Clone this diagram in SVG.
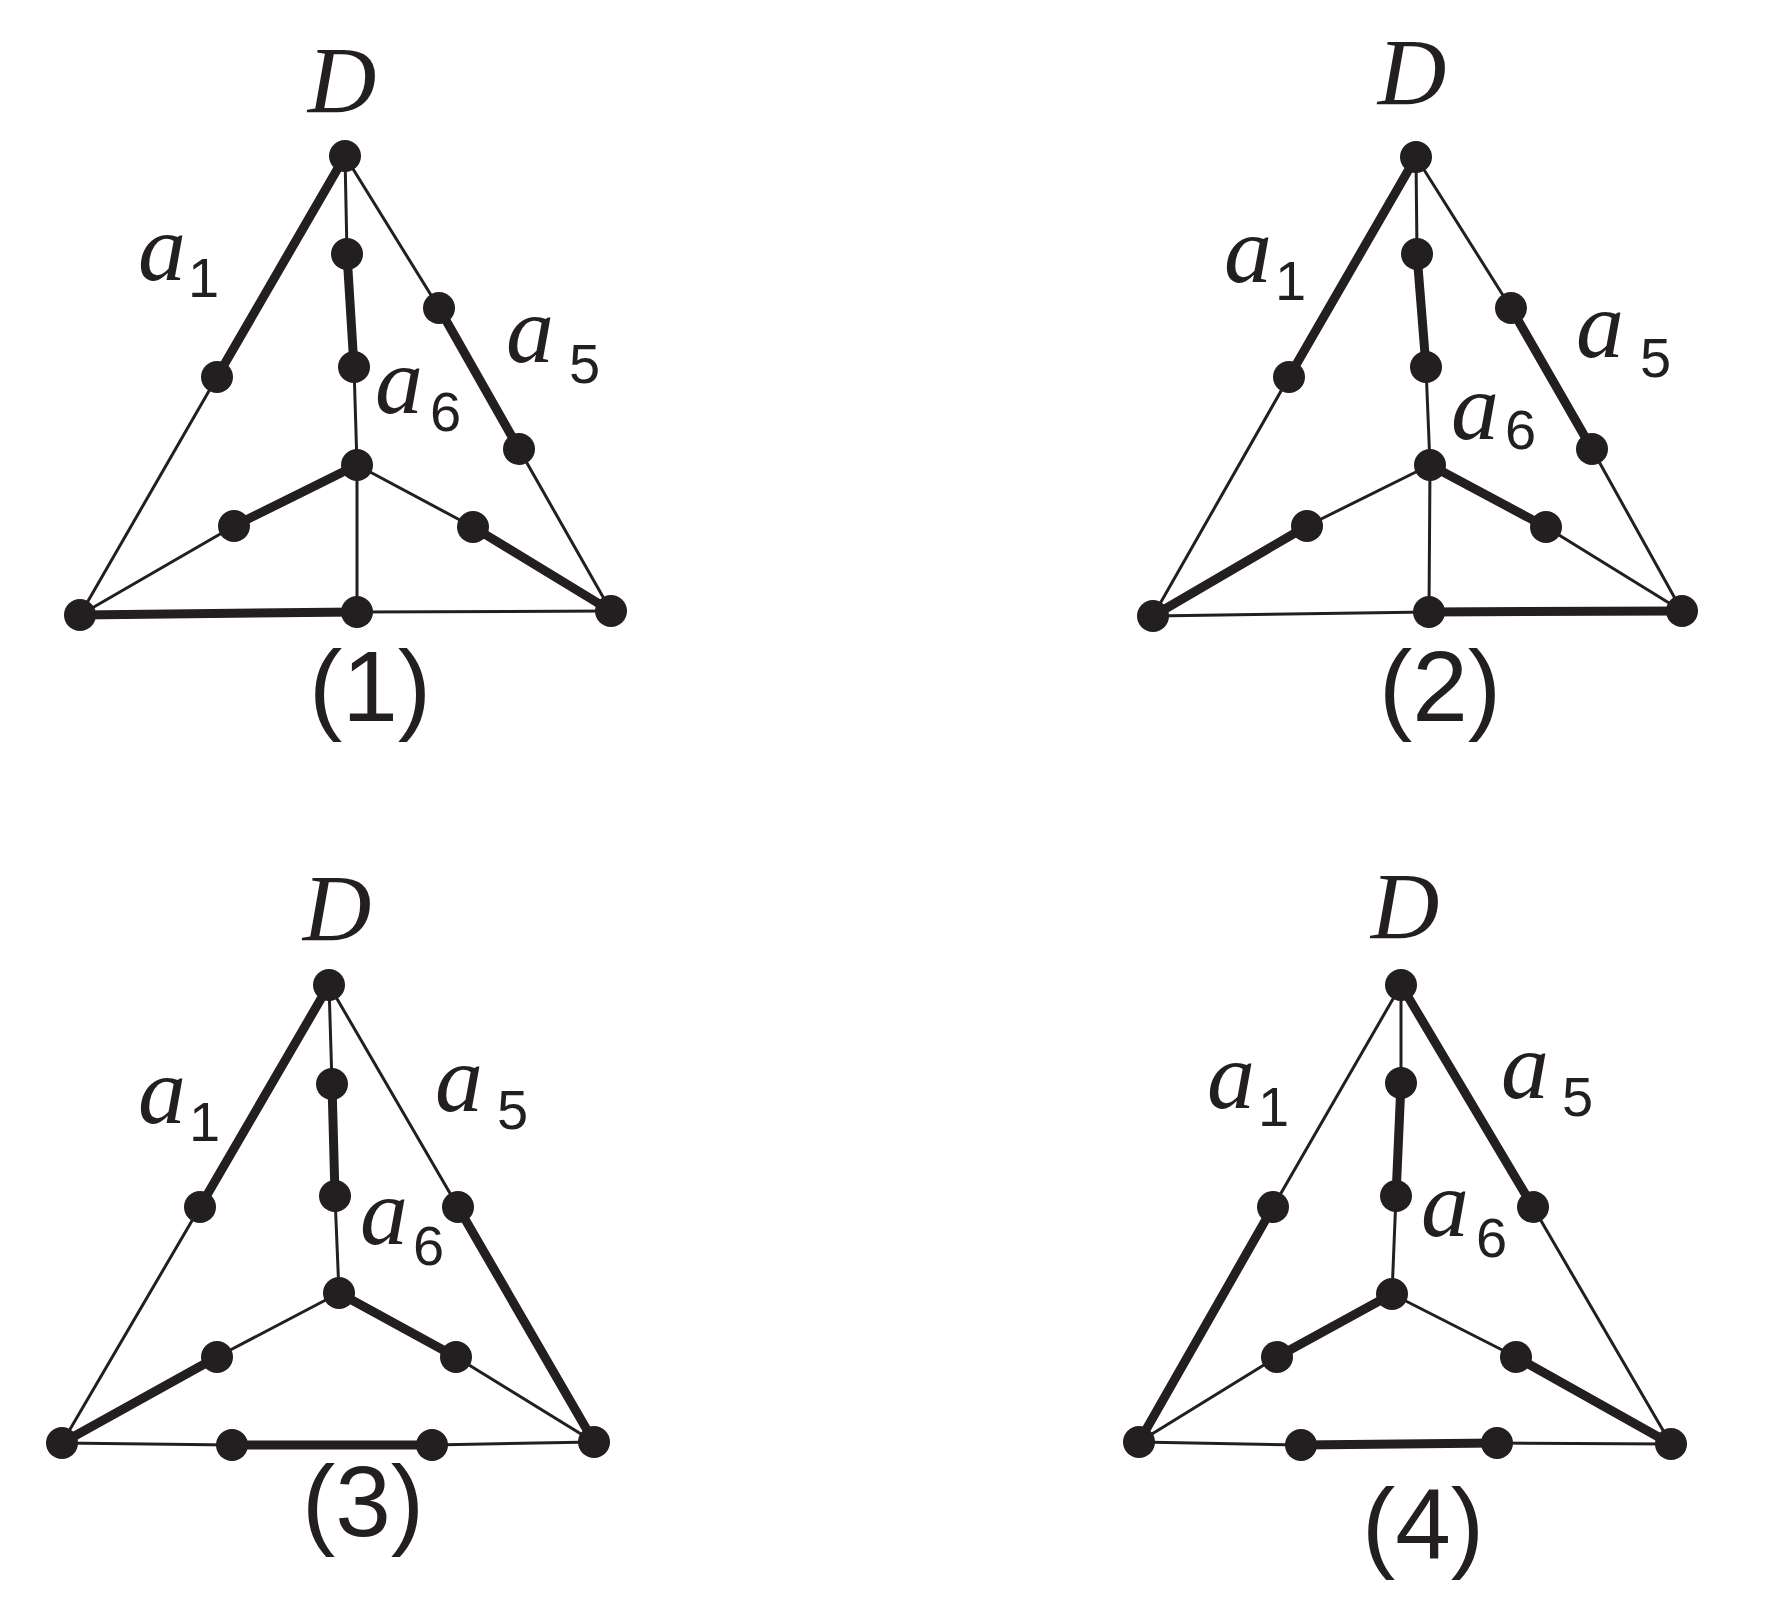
<svg xmlns="http://www.w3.org/2000/svg" width="1768" height="1610" viewBox="0 0 1768 1610">
<style>
.thin{stroke:#231f20;stroke-width:3;fill:none;stroke-linecap:round}
.thick{stroke:#231f20;stroke-width:9;fill:none;stroke-linecap:round}
.n circle{fill:#231f20}
.D{font-family:"Liberation Serif",serif;font-style:italic;font-size:95px;fill:#231f20;text-anchor:middle}
.a{font-family:"Liberation Serif",serif;font-style:italic;font-size:96px;fill:#231f20;text-anchor:start}
.s{font-family:"Liberation Sans",Arial,sans-serif;font-style:normal;font-size:56px}
.cap{font-family:"Liberation Sans",Arial,sans-serif;font-size:100px;fill:#231f20;text-anchor:middle}
</style>
<rect width="1768" height="1610" fill="#fff"/>

<g id="connectors">
<!-- panel 1 -->
<path class="thick" d="M345,156 L217,377"/>
<path class="thin" d="M217,377 L80,615"/>
<path class="thin" d="M345,156 L439,308"/>
<path class="thick" d="M439,308 L519,449"/>
<path class="thin" d="M519,449 L611,611"/>
<path class="thin" d="M345,156 L347,254"/>
<path class="thick" d="M347,254 L354,367"/>
<path class="thin" d="M354,367 L357,465"/>
<path class="thick" d="M357,465 L234,526"/>
<path class="thin" d="M234,526 L80,615"/>
<path class="thin" d="M357,465 L473,527"/>
<path class="thick" d="M473,527 L611,611"/>
<path class="thin" d="M357,465 L357,612"/>
<path class="thick" d="M80,615 L357,612"/>
<path class="thin" d="M357,612 L611,611"/>
<!-- panel 2 -->
<path class="thick" d="M1416,157 L1289,377"/>
<path class="thin" d="M1289,377 L1153,616"/>
<path class="thin" d="M1416,157 L1511,308"/>
<path class="thick" d="M1511,308 L1592,449"/>
<path class="thin" d="M1592,449 L1682,611"/>
<path class="thin" d="M1416,157 L1417,254"/>
<path class="thick" d="M1417,254 L1426,367"/>
<path class="thin" d="M1426,367 L1430,465"/>
<path class="thin" d="M1430,465 L1307,526"/>
<path class="thick" d="M1307,526 L1153,616"/>
<path class="thick" d="M1430,465 L1546,527"/>
<path class="thin" d="M1546,527 L1682,611"/>
<path class="thin" d="M1430,465 L1429,612"/>
<path class="thin" d="M1153,616 L1429,612"/>
<path class="thick" d="M1429,612 L1682,611"/>
<!-- panel 3 -->
<path class="thick" d="M329,985 L200,1207"/>
<path class="thin" d="M200,1207 L62,1443"/>
<path class="thin" d="M329,985 L458,1207"/>
<path class="thick" d="M458,1207 L594,1442"/>
<path class="thin" d="M329,985 L332,1084"/>
<path class="thick" d="M332,1084 L335,1196"/>
<path class="thin" d="M335,1196 L339,1293"/>
<path class="thin" d="M339,1293 L217,1357"/>
<path class="thick" d="M217,1357 L62,1443"/>
<path class="thick" d="M339,1293 L456,1357"/>
<path class="thin" d="M456,1357 L594,1442"/>
<path class="thin" d="M62,1443 L232,1445"/>
<path class="thick" d="M232,1445 L432,1445"/>
<path class="thin" d="M432,1445 L594,1442"/>
<!-- panel 4 -->
<path class="thin" d="M1401,985 L1273,1207"/>
<path class="thick" d="M1273,1207 L1139,1442"/>
<path class="thick" d="M1401,985 L1533,1207"/>
<path class="thin" d="M1533,1207 L1671,1444"/>
<path class="thin" d="M1401,985 L1401,1083"/>
<path class="thick" d="M1401,1083 L1396,1196"/>
<path class="thin" d="M1396,1196 L1392,1294"/>
<path class="thick" d="M1392,1294 L1277,1357"/>
<path class="thin" d="M1277,1357 L1139,1442"/>
<path class="thin" d="M1392,1294 L1516,1357"/>
<path class="thick" d="M1516,1357 L1671,1444"/>
<path class="thin" d="M1139,1442 L1301,1445"/>
<path class="thick" d="M1301,1445 L1497,1443"/>
<path class="thin" d="M1497,1443 L1671,1444"/>
</g>

<g id="nodes" class="n">
<g id="p1-D"><circle cx="345" cy="156" r="16"/></g>
<g id="p1-T1"><circle cx="347" cy="254" r="16"/></g>
<g id="p1-T2"><circle cx="354" cy="367" r="16"/></g>
<g id="p1-C"><circle cx="357" cy="465" r="16"/></g>
<g id="p1-L1"><circle cx="217" cy="377" r="16"/></g>
<g id="p1-R1"><circle cx="439" cy="308" r="16"/></g>
<g id="p1-R2"><circle cx="519" cy="449" r="16"/></g>
<g id="p1-IL"><circle cx="234" cy="526" r="16"/></g>
<g id="p1-IR"><circle cx="473" cy="527" r="16"/></g>
<g id="p1-BL"><circle cx="80" cy="615" r="16"/></g>
<g id="p1-BM"><circle cx="357" cy="612" r="16"/></g>
<g id="p1-BR"><circle cx="611" cy="611" r="16"/></g>

<g id="p2-D"><circle cx="1416" cy="157" r="16"/></g>
<g id="p2-T1"><circle cx="1417" cy="254" r="16"/></g>
<g id="p2-T2"><circle cx="1426" cy="367" r="16"/></g>
<g id="p2-C"><circle cx="1430" cy="465" r="16"/></g>
<g id="p2-L1"><circle cx="1289" cy="377" r="16"/></g>
<g id="p2-R1"><circle cx="1511" cy="308" r="16"/></g>
<g id="p2-R2"><circle cx="1592" cy="449" r="16"/></g>
<g id="p2-IL"><circle cx="1307" cy="526" r="16"/></g>
<g id="p2-IR"><circle cx="1546" cy="527" r="16"/></g>
<g id="p2-BL"><circle cx="1153" cy="616" r="16"/></g>
<g id="p2-BM"><circle cx="1429" cy="612" r="16"/></g>
<g id="p2-BR"><circle cx="1682" cy="611" r="16"/></g>

<g id="p3-D"><circle cx="329" cy="985" r="16"/></g>
<g id="p3-T1"><circle cx="332" cy="1084" r="16"/></g>
<g id="p3-T2"><circle cx="335" cy="1196" r="16"/></g>
<g id="p3-C"><circle cx="339" cy="1293" r="16"/></g>
<g id="p3-L1"><circle cx="200" cy="1207" r="16"/></g>
<g id="p3-R1"><circle cx="458" cy="1207" r="16"/></g>
<g id="p3-IL"><circle cx="217" cy="1357" r="16"/></g>
<g id="p3-IR"><circle cx="456" cy="1357" r="16"/></g>
<g id="p3-BL"><circle cx="62" cy="1443" r="16"/></g>
<g id="p3-BM1"><circle cx="232" cy="1445" r="16"/></g>
<g id="p3-BM2"><circle cx="432" cy="1445" r="16"/></g>
<g id="p3-BR"><circle cx="594" cy="1442" r="16"/></g>

<g id="p4-D"><circle cx="1401" cy="985" r="16"/></g>
<g id="p4-T1"><circle cx="1401" cy="1083" r="16"/></g>
<g id="p4-T2"><circle cx="1396" cy="1196" r="16"/></g>
<g id="p4-C"><circle cx="1392" cy="1294" r="16"/></g>
<g id="p4-L1"><circle cx="1273" cy="1207" r="16"/></g>
<g id="p4-R1"><circle cx="1533" cy="1207" r="16"/></g>
<g id="p4-IL"><circle cx="1277" cy="1357" r="16"/></g>
<g id="p4-IR"><circle cx="1516" cy="1357" r="16"/></g>
<g id="p4-BL"><circle cx="1139" cy="1442" r="16"/></g>
<g id="p4-BM1"><circle cx="1301" cy="1445" r="16"/></g>
<g id="p4-BM2"><circle cx="1497" cy="1443" r="16"/></g>
<g id="p4-BR"><circle cx="1671" cy="1444" r="16"/></g>
</g>

<g id="labels">
<text class="D" x="342" y="113">D</text>
<text class="a" x="138" y="280">a<tspan class="s" x="188" y="297">1</tspan></text>
<text class="a" x="506" y="362">a<tspan class="s" x="569" y="383">5</tspan></text>
<text class="a" x="375" y="413">a<tspan class="s" x="430" y="431">6</tspan></text>
<text class="cap" x="370" y="721">(1)</text>

<text class="D" x="1412" y="105">D</text>
<text class="a" x="1224" y="282">a<tspan class="s" x="1275" y="300">1</tspan></text>
<text class="a" x="1576" y="357">a<tspan class="s" x="1640" y="377">5</tspan></text>
<text class="a" x="1451" y="439">a<tspan class="s" x="1505" y="449">6</tspan></text>
<text class="cap" x="1440" y="721">(2)</text>

<text class="D" x="337" y="941">D</text>
<text class="a" x="138" y="1123">a<tspan class="s" x="189" y="1141">1</tspan></text>
<text class="a" x="435" y="1111">a<tspan class="s" x="497" y="1129">5</tspan></text>
<text class="a" x="360" y="1244">a<tspan class="s" x="413" y="1265">6</tspan></text>
<text class="cap" x="363" y="1536">(3)</text>

<text class="D" x="1405" y="939">D</text>
<text class="a" x="1207" y="1108">a<tspan class="s" x="1258" y="1126">1</tspan></text>
<text class="a" x="1501" y="1098">a<tspan class="s" x="1562" y="1116">5</tspan></text>
<text class="a" x="1421" y="1236">a<tspan class="s" x="1476" y="1257">6</tspan></text>
<text class="cap" x="1423" y="1559">(4)</text>
</g>
</svg>
